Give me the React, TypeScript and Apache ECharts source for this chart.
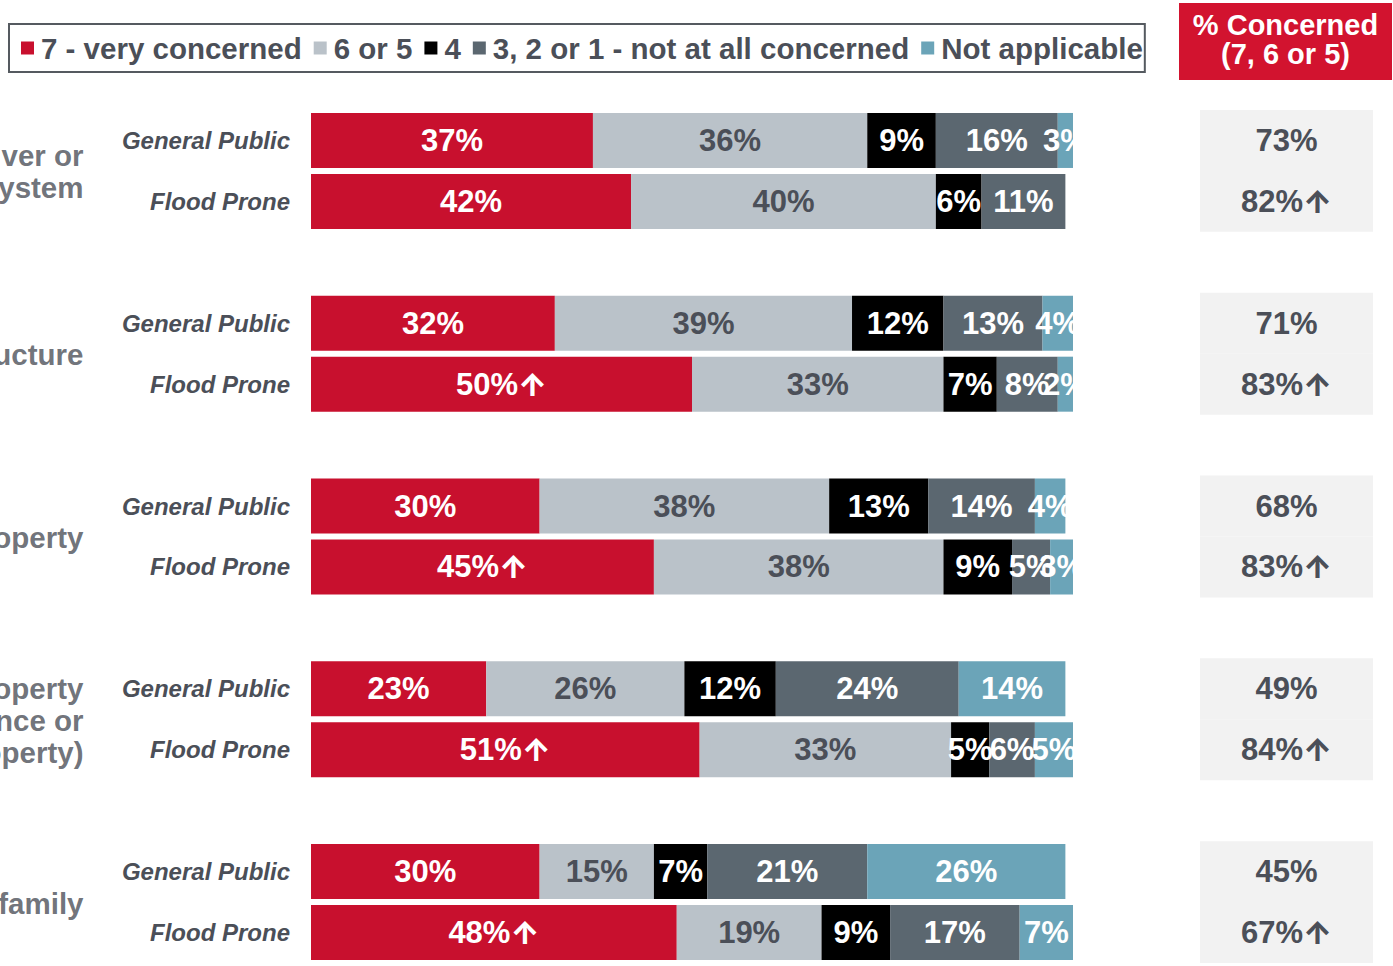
import React, { useEffect, useRef } from "react";
import * as echarts from "echarts";

const groupLabels = ["ver or\nystem", "ucture", "operty", "operty\nnce or\noperty)", "family"];
const subgroupLabels = ["General Public", "Flood Prone"];
const seriesNames = ["7 - very concerned", "6 or 5", "4", "3, 2 or 1 - not at all concerned", "Not applicable"];
// rows: GP, FP for each group
const veryConcerned = [37, 42, 32, 50, 30, 45, 23, 51, 30, 48];
const sixOrFive = [36, 40, 39, 33, 38, 38, 26, 33, 15, 19];
const four = [9, 6, 12, 7, 13, 9, 12, 5, 7, 9];
const notConcerned = [16, 11, 13, 8, 14, 5, 24, 6, 21, 17];
const notApplicable = [3, 0, 4, 2, 4, 3, 14, 5, 26, 7];
const barArrow = [false, false, false, true, false, true, false, true, false, true];
const concernedArrow = [false, true, false, true, false, true, false, true, false, true];

const colors = ["#C8102E", "#BAC2C9", "#000000", "#5B6770", "#6BA4B8"];
const labelColors = ["#FFFFFF", "#4B4F58", "#FFFFFF", "#FFFFFF", "#FFFFFF"];
const textGray = "#4B4F58";
const FONT = "'Liberation Sans', Arial, Helvetica, sans-serif";
const ARROW_FONT = "Inter, 'DejaVu Sans', sans-serif";

export default function App() {
  const ref = useRef<HTMLDivElement>(null);
  useEffect(() => {
    if (!ref.current) return;
    const chart = echarts.init(ref.current, undefined, { renderer: "svg" });

    const slots: string[] = [];
    const slotRow: number[] = [];
    groupLabels.forEach((_, g) => {
      subgroupLabels.forEach((s, r) => {
        slots.push(s);
        slotRow.push(g * 2 + r);
      });
      if (g < groupLabels.length - 1) {
        slots.push("");
        slotRow.push(-1);
      }
    });
    const nSlots = slots.length;
    const valueArrays = [veryConcerned, sixOrFive, four, notConcerned, notApplicable];
    const concerned = veryConcerned.map((v, i) => v + sixOrFive[i]);

    const gridTop = 110;
    const gridHeight = 853;

    const arrowRich = (color: string) => ({
      v: { fontFamily: FONT, fontWeight: "bold", fontSize: 31, color },
      a: { fontFamily: ARROW_FONT, fontWeight: 800, fontSize: 31, color },
    });

    const barSeries = valueArrays.map((arr, si) => ({
      name: seriesNames[si],
      type: "bar",
      stack: "total",
      xAxisIndex: 0,
      yAxisIndex: 0,
      barWidth: 55,
      itemStyle: { color: colors[si] },
      label: {
        show: true,
        position: "inside",
        color: labelColors[si],
        fontFamily: FONT,
        fontWeight: "bold",
        fontSize: 31,
        rich: arrowRich(labelColors[si]),
        formatter: (p: any) => {
          const row = slotRow[p.dataIndex];
          if (row < 0 || !p.value) return "";
          return `{v|${p.value}%}` + (si === 0 && barArrow[row] ? "{a|↑}" : "");
        },
      },
      data: slotRow.map((row) => (row < 0 ? "-" : arr[row])),
    }));

    const option: any = {
      animation: false,
      backgroundColor: "#ffffff",
      textStyle: { fontFamily: FONT },
      legend: {
        data: seriesNames,
        left: 9,
        top: 24,
        orient: "horizontal",
        icon: "rect",
        itemWidth: 13,
        itemHeight: 13,
        itemGap: 12,
        padding: [9, 2, 9, 12],
        borderColor: "#555A60",
        borderWidth: 2,
        selectedMode: false,
        textStyle: {
          fontFamily: FONT,
          fontWeight: "bold",
          fontSize: 29.5,
          color: textGray,
          lineHeight: 30,
          padding: [0, 0, 0, 2],
        },
      },
      grid: [
        { left: 311, width: 762, top: gridTop, height: gridHeight },
        { left: 0, width: 84, top: gridTop, height: gridHeight },
        { left: 1200, width: 173, top: gridTop, height: gridHeight },
      ],
      xAxis: [
        { type: "value", gridIndex: 0, min: 0, max: 100, show: false },
        { type: "value", gridIndex: 1, min: 0, max: 1, show: false },
        { type: "value", gridIndex: 2, min: 0, max: 1, show: false },
      ],
      yAxis: [
        {
          type: "category",
          gridIndex: 0,
          inverse: true,
          data: slots,
          axisLine: { show: false },
          axisTick: { show: false },
          axisLabel: {
            margin: 21,
            fontFamily: FONT,
            fontStyle: "italic",
            fontWeight: "bold",
            fontSize: 24,
            color: textGray,
          },
        },
        { type: "value", gridIndex: 1, inverse: true, min: 0, max: nSlots, show: false },
        { type: "category", gridIndex: 2, inverse: true, data: slots, show: false },
      ],
      series: [
        ...barSeries,
        {
          name: "groupLabels",
          type: "scatter",
          xAxisIndex: 1,
          yAxisIndex: 1,
          symbolSize: 1,
          itemStyle: { color: "rgba(0,0,0,0)" },
          label: {
            show: true,
            position: "left",
            distance: 0,
            offset: [0, 1],
            fontFamily: FONT,
            fontWeight: "bold",
            fontSize: 29.5,
            lineHeight: 32,
            color: textGray,
            align: "right",
            formatter: (p: any) => groupLabels[p.dataIndex],
          },
          data: groupLabels.map((_, g) => [1, g * 3 + 1]),
        },
        {
          name: "concerned",
          type: "bar",
          xAxisIndex: 2,
          yAxisIndex: 2,
          barWidth: "100%",
          itemStyle: { color: "#F2F2F2" },
          label: {
            show: true,
            position: "inside",
            color: textGray,
            fontFamily: FONT,
            fontWeight: "bold",
            fontSize: 31,
            rich: arrowRich(textGray),
            formatter: (p: any) => {
              const row = slotRow[p.dataIndex];
              if (row < 0) return "";
              return `{v|${concerned[row]}%}` + (concernedArrow[row] ? "{a|↑}" : "");
            },
          },
          data: slotRow.map((row) => (row < 0 ? "-" : 1)),
        },
      ],
      graphic: [
        {
          type: "rect",
          z: 100,
          silent: true,
          shape: { x: 1075, y: 95, width: 124, height: 871 },
          style: { fill: "#ffffff" },
        },
        {
          type: "rect",
          z: 100,
          shape: { x: 1179, y: 3, width: 213, height: 77 },
          style: { fill: "#D2132F" },
        },
        {
          type: "text",
          z: 101,
          x: 1285.5,
          y: 39.5,
          style: {
            text: "% Concerned\n(7, 6 or 5)",
            fill: "#ffffff",
            font: `bold 29px ${FONT}`,
            lineHeight: 29,
            align: "center",
            verticalAlign: "middle",
          },
        },
      ],
    };
    chart.setOption(option);
    return () => chart.dispose();
  }, []);
  return (
    <div
      ref={ref}
      style={{ position: "absolute", left: 0, top: 0, width: 1393, height: 966, background: "#fff" }}
    />
  );
}
